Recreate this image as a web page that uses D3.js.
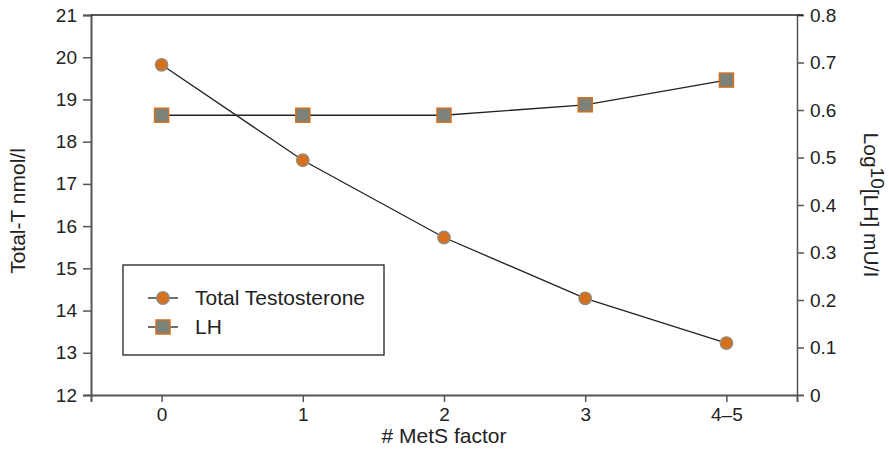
<!DOCTYPE html>
<html>
<head>
<meta charset="utf-8">
<script src="https://cdn.jsdelivr.net/npm/d3@7"></script>
<style>
  body { margin: 0; background: #fff; }
  svg text { font-family: "Liberation Sans", Arial, sans-serif; fill: #222; }
</style>
</head>
<body>
<div id="chart"></div>
<script>
'use strict'

// Data.
const categories = ['0', '1', '2', '3', '4–5'];
const totalT = [19.82, 17.56, 15.73, 14.29, 13.23];
const logLH = [0.589, 0.589, 0.589, 0.611, 0.663];
const leftTicks = [12, 13, 14, 15, 16, 17, 18, 19, 20, 21];
const rightTicks = [0, 0.1, 0.2, 0.3, 0.4, 0.5, 0.6, 0.7, 0.8];

const width = 889, height = 449;
const margin = {top: 15, right: 92, bottom: 54, left: 91};
const tickFont = 19, titleFont = 21;

const svg = d3.select('#chart')
    .append('svg')
        .attr('width', width)
        .attr('height', height);

// Scales.
let x = d3.scalePoint()
    .domain(categories)
    .range([margin.left, width - margin.right])
    .padding(0.5);

let yL = d3.scaleLinear()
    .domain([12, 21])
    .range([height - margin.bottom, margin.top]);

let yR = d3.scaleLinear()
    .domain([0, 0.8])
    .range([height - margin.bottom, margin.top]);

const axisColor = '#555';

function styleTicks(g) {
    g.selectAll('.tick line').attr('stroke', axisColor).attr('stroke-width', 1.5);
    g.selectAll('.tick text').attr('font-size', tickFont).attr('fill', '#222')
        .style('font-family', '"Liberation Sans", Arial, sans-serif');
}

// Left axis.
svg.append('g')
    .attr('transform', `translate(${margin.left}, 0)`)
    .call(d3.axisLeft(yL).tickValues(leftTicks).tickSize(8).tickPadding(6).tickFormat(d3.format('d')))
    .call(g => g.select('.domain').attr('stroke', axisColor).attr('stroke-width', 2))
    .call(styleTicks);

// Right axis.
svg.append('g')
    .attr('transform', `translate(${width - margin.right}, 0)`)
    .call(d3.axisRight(yR).tickValues(rightTicks).tickSize(7).tickPadding(6)
        .tickFormat(d => d === 0 ? '0' : d3.format('.1f')(d)))
    .call(g => g.select('.domain').attr('stroke', axisColor).attr('stroke-width', 1.5))
    .call(styleTicks);

// Bottom axis.
svg.append('g')
    .attr('transform', `translate(0, ${height - margin.bottom})`)
    .call(d3.axisBottom(x).tickSize(7).tickPadding(6))
    .call(g => g.select('.domain').attr('stroke', axisColor).attr('stroke-width', 2))
    .call(styleTicks);

// Top frame line.
svg.append('line')
    .attr('x1', margin.left).attr('x2', width - margin.right + 6)
    .attr('y1', margin.top).attr('y2', margin.top)
    .attr('stroke', '#222').attr('stroke-width', 1.5);

// Axis titles.
svg.append('text')
    .attr('transform', `translate(25, ${(margin.top + height - margin.bottom) / 2 + 6}) rotate(-90)`)
    .attr('text-anchor', 'middle')
    .attr('font-size', titleFont)
    .text('Total-T nmol/l');

let rt = svg.append('text')
    .attr('transform', `translate(864, ${(margin.top + height - margin.bottom) / 2}) rotate(90)`)
    .attr('text-anchor', 'middle')
    .attr('font-size', titleFont);
rt.append('tspan').text('Log');
rt.append('tspan').attr('dy', -7).attr('font-size', 19).text('10');
rt.append('tspan').attr('dy', 7).text('[LH] mU/I');

svg.append('text')
    .attr('x', (margin.left + width - margin.right) / 2)
    .attr('y', 443)
    .attr('text-anchor', 'middle')
    .attr('font-size', titleFont)
    .text('# MetS factor');

const lineColor = '#222';
const orange = '#d4701f';
const grey = '#7b8279';

// Total testosterone series.
svg.append('path')
    .datum(totalT)
    .attr('fill', 'none')
    .attr('stroke', lineColor)
    .attr('stroke-width', 1.3)
    .attr('d', d3.line().x((d, i) => x(categories[i])).y(d => yL(d)));

svg.append('g')
    .selectAll('circle')
    .data(totalT)
    .join('circle')
        .attr('cx', (d, i) => x(categories[i]))
        .attr('cy', d => yL(d))
        .attr('r', 6.3)
        .attr('fill', orange)
        .attr('stroke', '#8a8f88')
        .attr('stroke-width', 1.2);

// LH series.
svg.append('path')
    .datum(logLH)
    .attr('fill', 'none')
    .attr('stroke', lineColor)
    .attr('stroke-width', 1.3)
    .attr('d', d3.line().x((d, i) => x(categories[i])).y(d => yR(d)));

svg.append('g')
    .selectAll('rect')
    .data(logLH)
    .join('rect')
        .attr('x', (d, i) => x(categories[i]) - 7)
        .attr('y', d => yR(d) - 7)
        .attr('width', 14)
        .attr('height', 14)
        .attr('fill', grey)
        .attr('stroke', orange)
        .attr('stroke-width', 1.5);

// Legend.
const legend = svg.append('g').attr('transform', 'translate(123, 265)');
legend.append('rect')
    .attr('width', 261).attr('height', 90)
    .attr('fill', '#fff').attr('stroke', '#222').attr('stroke-width', 1.3);

const items = [{label: 'Total Testosterone', shape: 'circle'}, {label: 'LH', shape: 'square'}];
items.forEach((it, i) => {
    let g = legend.append('g').attr('transform', `translate(40, ${33 + i * 29})`);
    g.append('line').attr('x1', -15).attr('x2', 15).attr('stroke', lineColor).attr('stroke-width', 1.3);
    if (it.shape === 'circle') {
        g.append('circle').attr('r', 6.3).attr('fill', orange).attr('stroke', '#8a8f88').attr('stroke-width', 1.2);
    } else {
        g.append('rect').attr('x', -7).attr('y', -7).attr('width', 14).attr('height', 14)
            .attr('fill', grey).attr('stroke', orange).attr('stroke-width', 1.5);
    }
    g.append('text').attr('x', 32).attr('dy', '0.35em').attr('font-size', titleFont).text(it.label);
});
</script>
</body>
</html>
